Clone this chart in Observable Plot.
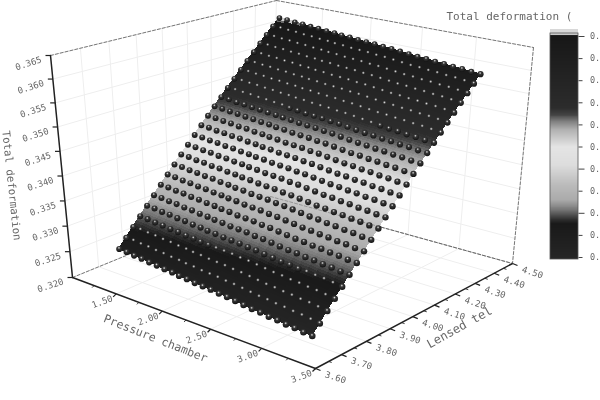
<!DOCTYPE html>
<html><head><meta charset="utf-8">
<script src="https://cdn.jsdelivr.net/npm/d3@7"></script>
<script src="https://cdn.jsdelivr.net/npm/@observablehq/plot@0.6"></script>
<style>html,body{margin:0;padding:0;background:#fff;overflow:hidden}svg{display:block;filter:blur(.45px)}</style>
</head><body><div id="chart"></div>
<script>
// --- data ---
const pressureTicks = [1.5, 2.0, 2.5, 3.0, 3.5];
const pressureMinor = [1.25, 1.75, 2.25, 2.75, 3.25];
const pressureLabels = ["1.50","2.00","2.50","3.00","3.50"];
const lensTicks = [3.6,3.7,3.8,3.9,4.0,4.1,4.2,4.3,4.4,4.5];
const lensMinor = [3.65,3.75,3.85,3.95,4.05,4.15,4.25,4.35,4.45];
const lensLabels = ["3.60","3.70","3.80","3.90","4.00","4.10","4.20","4.30","4.40","4.50"];
const zTicks = [0.320,0.325,0.330,0.335,0.340,0.345,0.350,0.355,0.360,0.365];
const zLabels = ["0.320","0.325","0.330","0.335","0.340","0.345","0.350","0.355","0.360","0.365"];
const pressureGrid = [1.51,1.59,1.67,1.75,1.83,1.91,1.99,2.07,2.14,2.22,2.30,2.38,2.46,2.54,2.62,2.70,2.78,2.86,2.94,3.02,3.10,3.18,3.26,3.34,3.42];
const lensGrid = [3.62,3.648,3.676,3.704,3.732,3.76,3.788,3.816,3.844,3.872,3.90,3.928,3.956,3.984,4.012,4.04,4.068,4.096,4.124,4.152,4.18,4.208,4.236,4.264,4.292];
const deformByLens = [0.3266,0.32816,0.32972,0.33128,0.33283,0.33439,0.33595,0.33751,0.33907,0.34063,0.34218,0.34374,0.3453,0.34686,0.34842,0.34998,0.35153,0.35309,0.35465,0.35621,0.35777,0.35933,0.36088,0.36244,0.364];
const pressureOffset = [0.0016,0.0015,0.0013,0.0012,0.0010,0.0009,0.0007,0.0006,0.0004,0.0003,0.0001,0,-0.0001,-0.0003,-0.0004,-0.0006,-0.0008,-0.0010,-0.0011,-0.0013,-0.0014,-0.0016,-0.0017,-0.0019,-0.0020];
const cbarTicks = [0.325,0.329,0.333,0.337,0.341,0.345,0.349,0.353,0.357,0.361,0.365];
const cbarLabels = ["0.","0.","0.","0.","0.","0.","0.","0.","0.","0.","0."];
const cbarStops = [0.32464,0.33097,0.3317,0.33351,0.33532,0.33803,0.34165,0.34491,0.34799,0.34943,0.3507,0.35197,0.365,0.36518,0.36554];
const cbarGreys = ["#262626","#191919","#2e2e2e","#777777","#aaaaaa","#bbbbbb","#dddddd","#e4e4e4","#b0b0b0","#808080","#444444","#2c2c2c","#171717","#c8c8c8","#d8d8d8"];

// --- view: axis frame seen in perspective, drawn through Plot's x / y scales ---
const corners = {A:[72,277],B:[315,368],C:[512,263],D:[270,196],At:[50,55],Bt:[318,120],Ct:[533,47],Dt:[276,0]};
const pDom=[1.0,3.5], lDom=[3.6,4.5], zDom=[0.320,0.365];
const warp=(t,a)=>t/(a-(a-1)*t);
const mix=(a,b,t)=>[a[0]+(b[0]-a[0])*t,a[1]+(b[1]-a[1])*t];
function proj(p,l,z){
  const u=warp((p-pDom[0])/(pDom[1]-pDom[0]),1.14), v=warp((l-lDom[0])/(lDom[1]-lDom[0]),0.82), w=(z-zDom[0])/(zDom[1]-zDom[0]);
  const b=mix(mix(corners.A,corners.B,u),mix(corners.D,corners.C,u),v);
  const t=mix(mix(corners.At,corners.Bt,u),mix(corners.Dt,corners.Ct,u),v);
  return mix(b,t,warp(w,0.95));
}
const colorAt=d3.scaleLinear().domain(cbarStops).range(cbarGreys).clamp(true);
const zAt=(i,j)=>deformByLens[j]+pressureOffset[i];

// surface cells, finely stepped along the lens direction for a smooth shade
const quads=[];let qid=0;const sub=5;
for(let i=0;i<24;i++)for(let j=0;j<24;j++)for(let k=0;k<sub;k++){
  const f=k/sub,g=(k+1)/sub;
  const l0=lensGrid[j]+(lensGrid[j+1]-lensGrid[j])*f,l1=lensGrid[j]+(lensGrid[j+1]-lensGrid[j])*g;
  const z0=zAt(i,j)+(zAt(i,j+1)-zAt(i,j))*f,z1=zAt(i,j)+(zAt(i,j+1)-zAt(i,j))*g;
  const z0b=zAt(i+1,j)+(zAt(i+1,j+1)-zAt(i+1,j))*f,z1b=zAt(i+1,j)+(zAt(i+1,j+1)-zAt(i+1,j))*g;
  const col=colorAt((z0+z1+z0b+z1b)/4);qid++;
  quads.push({q:qid,c:col,a:proj(pressureGrid[i],l0,z0),b:proj(pressureGrid[i+1],l0,z0b)});
  quads.push({q:qid,c:col,a:proj(pressureGrid[i],l1,z1),b:proj(pressureGrid[i+1],l1,z1b)});
}
const balls=[];
for(let j=0;j<25;j++)for(let i=0;i<25;i++){
  const z=zAt(i,j),P=proj(pressureGrid[i],lensGrid[j],z);
  const onDark=(z<0.3315||z>0.3520)&&i>0&&i<24&&j>0&&j<24;
  balls.push({x:P[0],y:P[1],r:2.1+0.35*(24-j)/24+0.35*i/24,onDark});
}
balls.sort((a,b)=>a.y-b.y);

const lines=(arr,opt)=>Plot.line(arr.flatMap((s,n)=>s.map(P=>({x:P[0],y:P[1],n}))),{x:"x",y:"y",z:"n",...opt});
const gridStyle={stroke:"#eeeeee",strokeWidth:1};
const floorGrid=[...pressureTicks.map(p=>[proj(p,lDom[0],zDom[0]),proj(p,lDom[1],zDom[0])]),...lensTicks.map(l=>[proj(pDom[0],l,zDom[0]),proj(pDom[1],l,zDom[0])])];
const leftWall=[...lensTicks.map(l=>[proj(pDom[0],l,zDom[0]),proj(pDom[0],l,zDom[1])]),...zTicks.map(z=>[proj(pDom[0],lDom[0],z),proj(pDom[0],lDom[1],z)])];
const backWall=[...pressureTicks.map(p=>[proj(p,lDom[1],zDom[0]),proj(p,lDom[1],zDom[1])]),...zTicks.map(z=>[proj(pDom[0],lDom[1],z),proj(pDom[1],lDom[1],z)])];
const dashed=[[corners.At,corners.Dt],[corners.Dt,corners.Ct],[corners.Ct,corners.C],[corners.A,corners.D],[corners.D,corners.C]];

const labelStyle={fill:"#666",fontFamily:"DejaVu Sans Mono",fontSize:9,stroke:"none"};
const zLab=zTicks.map((z,i)=>{const P=proj(pDom[0],lDom[0],z);return{x:P[0],y:P[1],t:zLabels[i]}});
const pLab=pressureTicks.map((p,i)=>{const P=proj(p,lDom[0],zDom[0]);return{x:P[0],y:P[1],t:pressureLabels[i]}});
const lLab=lensTicks.map((l,i)=>{const P=proj(pDom[1],l,zDom[0]);return{x:P[0],y:P[1],t:lensLabels[i]}});
const pMin=pressureMinor.map(p=>{const P=proj(p,lDom[0],zDom[0]);return{x:P[0],y:P[1]}});
const lMin=lensMinor.map(l=>{const P=proj(pDom[1],l,zDom[0]);return{x:P[0],y:P[1]}});
const tick=(data,dx,dy,w=1.2)=>Plot.link(data,{x1:"x",y1:"y",x2:d=>d.x+dx,y2:d=>d.y+dy,stroke:"#222",strokeWidth:w});
const cbarY=d3.scaleLinear().domain([0.325,0.365]).range([257,36]);
const cbarRows=d3.range(0,457).map(n=>0.3246+n*0.00009);

const defs=()=>{const s=d3.create("svg:defs");
 const g=s.append("radialGradient").attr("id","ball").attr("cx","45%").attr("cy","32%").attr("r","62%");
 [[0,"#e6e6e6",1],[.14,"#9c9c9c",1],[.34,"#383838",1],[1,"#161616",1]].forEach(([o,c,a])=>g.append("stop").attr("offset",o).attr("stop-color",c).attr("stop-opacity",a));
 const h=s.append("radialGradient").attr("id","glint").attr("cx","45%").attr("cy","32%").attr("r","62%");
 [[0,"#e0e0e0",1],[.2,"#9a9a9a",.9],[.5,"#333333",0],[1,"#333333",0]].forEach(([o,c,a])=>h.append("stop").attr("offset",o).attr("stop-color",c).attr("stop-opacity",a));
 return s.node();};

const fig=Plot.plot({width:600,height:400,margin:0,
 x:{domain:[0,600],range:[0,600],axis:null},y:{domain:[0,400],range:[0,400],axis:null},
 marks:[defs,
  lines(floorGrid,gridStyle),lines(leftWall,gridStyle),lines(backWall,gridStyle),
  lines(dashed,{stroke:"#777",strokeWidth:1,strokeDasharray:"3,2"}),
  lines([[corners.A,corners.At],[corners.A,corners.B],[corners.B,corners.C]],{stroke:"#222",strokeWidth:1.5}),
  tick(zLab,-5,0),tick(pLab,-3,3),tick(lLab,5,2),tick(pMin,-2,2,.9),tick(lMin,3,1,.9),
  Plot.text(zLab,{x:d=>d.x-22,y:d=>d.y+8,text:"t",...labelStyle,rotate:-18}),
  Plot.text(pLab,{x:d=>d.x-14,y:d=>d.y+8,text:"t",...labelStyle,rotate:-20}),
  Plot.text(lLab,{x:d=>d.x+20,y:d=>d.y+9,text:"t",...labelStyle,rotate:18}),
  Plot.text([{x:11,y:185,t:"Total deformation"}],{x:"x",y:"y",text:"t",...labelStyle,fontSize:10.8,rotate:84}),
  Plot.text([{x:155,y:338,t:"Pressure chamber"}],{x:"x",y:"y",text:"t",...labelStyle,fontSize:11.5,letterSpacing:"0.3px",rotate:21.6}),
  Plot.text([{x:459,y:327,t:"Lensed tel"}],{x:"x",y:"y",text:"t",...labelStyle,fontSize:12,letterSpacing:"1.5px",rotate:-29}),
  Plot.area(quads,{x1:d=>d.a[0],y1:d=>d.a[1],x2:d=>d.b[0],y2:d=>d.b[1],z:"q",fill:"c",stroke:"c",strokeWidth:1,shapeRendering:"crispEdges"}),
  lines([[corners.D,corners.C]],{stroke:"#555",strokeWidth:.8,strokeDasharray:"3,2",strokeOpacity:.55}),
  Plot.dot(balls.filter(d=>d.onDark),{x:"x",y:"y",r:"r",fill:"url(#glint)",stroke:"none"}),
  Plot.dot(balls.filter(d=>!d.onDark),{x:"x",y:"y",r:"r",fill:"url(#ball)",stroke:"none"}),
  Plot.rect(cbarRows,{x1:550,x2:578,y1:z=>cbarY(z),y2:z=>cbarY(z+0.0006),fill:z=>colorAt(z),shapeRendering:"crispEdges"}),
  Plot.rect([0],{x1:550,x2:578,y1:33,y2:259,fill:"none",stroke:"#555",strokeWidth:.8}),
  Plot.link(cbarTicks,{x1:578,x2:d=>d===0.341||d===0.333||d===0.365?584:582,y1:d=>cbarY(d),y2:d=>cbarY(d),stroke:"#444"}),
  Plot.text(cbarTicks,{x:589.5,y:d=>cbarY(d),text:(d,i)=>cbarLabels[i],textAnchor:"start",...labelStyle,fontSize:8.5}),
  Plot.text([{x:446,y:16,t:"Total deformation ("}],{x:"x",y:"y",text:"t",textAnchor:"start",...labelStyle,fontSize:11,letterSpacing:"1.45px"})
 ]});
document.getElementById("chart").appendChild(fig);
</script></body></html>
